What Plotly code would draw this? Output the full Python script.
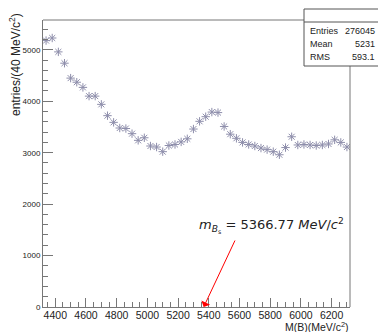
import plotly.graph_objects as go

# ---- data ----
bin_centers = [4340 + 40 * i for i in range(50)]
entries = [5180, 5230, 4960, 4740, 4450, 4370, 4270, 4100, 4100, 3940,
           3720, 3590, 3480, 3470, 3370, 3240, 3290, 3130, 3110, 3020,
           3140, 3160, 3210, 3270, 3460, 3610, 3700, 3790, 3780, 3510,
           3360, 3280, 3200, 3160, 3130, 3090, 3060, 3020, 2960, 3100,
           3310, 3150, 3160, 3150, 3140, 3150, 3170, 3250, 3200, 3110]
x_ticks = [4400, 4600, 4800, 5000, 5200, 5400, 5600, 5800, 6000, 6200]
y_ticks = [0, 1000, 2000, 3000, 4000, 5000]
mass_bs = 5366.77
stats_labels = ["Entries", "Mean", "RMS"]
stats_values = ["276045", "5231", "593.1"]

FONT = "Liberation Sans, Arial, sans-serif"
AXC = "#777777"
MC = "#8e8eab"

fig = go.Figure()
fig.add_trace(go.Scatter(
    x=bin_centers, y=entries, mode="markers",
    marker=dict(symbol="asterisk-open", size=7, color=MC,
                line=dict(color=MC, width=1)),
    showlegend=False, hoverinfo="skip"))

fig.update_layout(
    width=378, height=332,
    margin=dict(l=43, r=28, t=20, b=25),
    paper_bgcolor="white", plot_bgcolor="white",
    font=dict(family=FONT, color="#222222"),
    xaxis=dict(range=[4320, 6320], tickvals=x_ticks, ticks="inside",
               ticklen=9, tickcolor=AXC, showgrid=False, zeroline=False,
               showline=True, linecolor=AXC, linewidth=1, mirror=False,
               ticklabelstandoff=-2,
               tickfont=dict(size=10.5, family=FONT, color="#222222"),
               minor=dict(dtick=50, tick0=4400, ticks="inside", ticklen=5,
                          tickcolor=AXC, showgrid=False)),
    yaxis=dict(range=[0, 5580], tickvals=y_ticks, ticks="inside",
               ticklen=10, tickcolor=AXC, showgrid=False, zeroline=False,
               showline=True, linecolor=AXC, linewidth=1, mirror=False,
               tickfont=dict(size=8, family=FONT, color="#222222"),
               minor=dict(dtick=200, tick0=0, ticks="inside", ticklen=5,
                          tickcolor=AXC, showgrid=False)),
)

# frame top and right (partially hidden by stats box)
fig.add_shape(type="line", xref="paper", yref="paper", x0=0, x1=1, y0=1, y1=1,
              line=dict(color=AXC, width=1))
fig.add_shape(type="line", xref="paper", yref="paper", x0=1, x1=1, y0=0, y1=1,
              line=dict(color=AXC, width=1))

# stats box (pixel geometry relative to plot area: 307 wide, 287 high)
px_w, px_h = 307.0, 287.0
def xp(px):
    return (px - 43) / px_w
def yp(py):
    return (307 - py) / px_h

fig.add_shape(type="rect", xref="paper", yref="paper",
              x0=xp(304), x1=xp(379), y0=yp(66), y1=yp(9),
              line=dict(color="#555555", width=1), fillcolor="white", layer="above")
fig.add_shape(type="line", xref="paper", yref="paper",
              x0=xp(304), x1=xp(379), y0=yp(22), y1=yp(22),
              line=dict(color="#555555", width=1), layer="above")
row_y = [31, 44, 57]
for lab, val, ry in zip(stats_labels, stats_values, row_y):
    fig.add_annotation(xref="paper", yref="paper", x=xp(308), y=yp(ry),
                       text=lab, showarrow=False, xanchor="left", yanchor="middle",
                       font=dict(size=9, family=FONT, color="#222222"))
    fig.add_annotation(xref="paper", yref="paper", x=xp(377), y=yp(ry),
                       text=val, showarrow=False, xanchor="right", yanchor="middle",
                       font=dict(size=9, family=FONT, color="#222222"))

# axis titles
fig.add_annotation(xref="paper", yref="paper", x=xp(15), y=yp(65),
                   text="entries/(40 MeV/c<sup>2</sup>)", textangle=-90,
                   showarrow=False, xanchor="center", yanchor="middle",
                   font=dict(size=12, family=FONT, color="#222222"))
fig.add_annotation(xref="paper", yref="paper", x=1, y=yp(334),
                   text="M(B)(MeV/c<sup>2</sup>)", showarrow=False,
                   xanchor="right", yanchor="bottom", borderpad=0,
                   font=dict(size=10.5, family=FONT, color="#222222"))

# arrow to Bs mass
fig.add_annotation(x=mass_bs, y=0, xref="x", yref="y", text="",
                   showarrow=True, ax=32, ay=-68, arrowcolor="red",
                   arrowwidth=1, arrowhead=1, arrowsize=1.6)
fig.add_annotation(xref="paper", yref="paper", x=xp(197), y=yp(226),
                   text="<i>m</i><sub><i>B</i><sub>s</sub></sub> = 5366.77 <i>MeV</i>/<i>c</i><sup>2</sup>",
                   showarrow=False, xanchor="left", yanchor="middle",
                   font=dict(size=13, family="DejaVu Sans, sans-serif", color="#222222"))

fig.write_html("out.html")
